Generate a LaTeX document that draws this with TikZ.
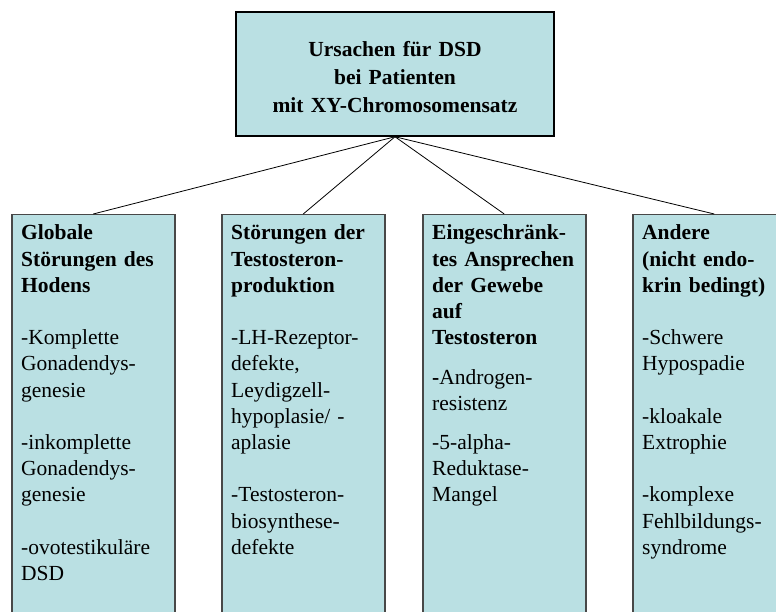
\documentclass[tikz,border=0pt]{standalone}
\usepackage{fontspec}
\setmainfont{Liberation Serif}
\definecolor{boxfill}{RGB}{186,224,227}
\definecolor{boxline}{RGB}{72,72,72}
\begin{document}
\begin{tikzpicture}[x=1pt,y=-1pt,
 topbox/.style={draw=black, line width=1.5pt, fill=boxfill, minimum width=318pt, minimum height=124pt, inner sep=0pt},
 catbox/.style={draw=boxline, line width=1.5pt, fill=boxfill, minimum width=163pt, minimum height=430pt, anchor=north west, inner sep=0pt},
 toptext/.style={inner sep=0pt, anchor=base, text width=310pt, align=center, font=\fontsize{21.5}{28}\selectfont\bfseries},
 cattext/.style={inner sep=0pt, anchor=base west, text width=155pt, align=left, font=\fontsize{21.5}{26.2}\selectfont},
 link/.style={draw=black, line width=0.8pt}]
\useasboundingbox (0,0) rectangle (776,612);
\clip (0,0) rectangle (776,612);
\node[topbox] (top) at (395,74) {};
\node[toptext] (toptxt) at (395,57) {Ursachen für DSD\\bei Patienten\\mit XY-Chromosomensatz};
\node[catbox] (b1) at (11,214) {};
\node[catbox] (b2) at (221,214) {};
\node[catbox] (b3) at (422,214) {};
\node[catbox] (b4) at (632,214) {};
\draw[link] (top.south) -- (b1.north);
\draw[link] (top.south) -- (b2.north);
\draw[link] (top.south) -- (b3.north);
\draw[link] (top.south) -- (b4.north);
\node[cattext] (t1) at (21,240) {\bfseries Globale\\Störungen des\\Hodens\\[26.2pt]\mdseries -Komplette\\Gonadendys-\\genesie\\[26.2pt]-inkomplette\\Gonadendys-\\genesie\\[26.2pt]-ovotestikuläre\\DSD};
\node[cattext] (t2) at (231,240) {\bfseries Störungen der\\Testosteron-\\produktion\\[26.2pt]\mdseries -LH-Rezeptor-\\defekte,\\Leydigzell-\\hypoplasie/ -\\aplasie\\[26.2pt]-Testosteron-\\biosynthese-\\defekte};
\node[cattext] (t3) at (432,240) {\bfseries Eingeschränk-\\tes Ansprechen\\der Gewebe\\auf\\Testosteron\\[13.1pt]-\mdseries Androgen-\\resistenz\\[13.1pt]-5-alpha-\\Reduktase-\\Mangel};
\node[cattext] (t4) at (642,240) {\bfseries Andere\\(nicht endo-\\krin bedingt)\\[26.2pt]\mdseries -Schwere\\Hypospadie\\[26.2pt]-kloakale\\Extrophie\\[26.2pt]-komplexe\\Fehlbildungs-\\syndrome};
\end{tikzpicture}
\end{document}
